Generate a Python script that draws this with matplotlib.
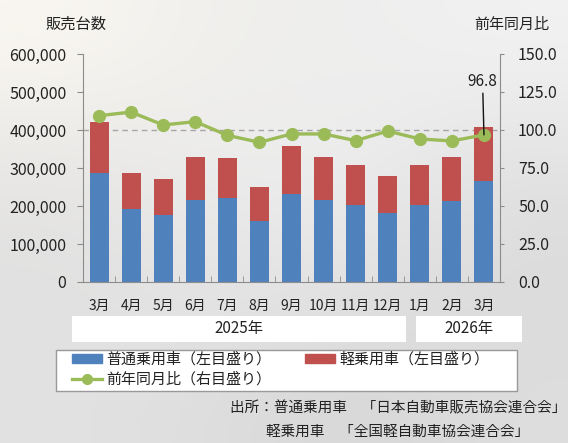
"""Monthly passenger car sales with year-on-year ratio."""

import matplotlib

matplotlib.use("Agg")
import matplotlib.pyplot as plt
import numpy as np
from matplotlib.lines import Line2D
from matplotlib.patches import Patch, Rectangle
from matplotlib.ticker import FuncFormatter, MultipleLocator

plt.rcParams["font.family"] = ["Noto Sans CJK JP", "DejaVu Sans"]

months = ["3月", "4月", "5月", "6月", "7月", "8月", "9月", "10月", "11月", "12月", "1月", "2月", "3月"]
years = ["2025年", "2026年"]
regular = [288000, 192000, 177000, 217000, 220000, 160000, 232000, 216000, 203000, 182000, 202000, 212000, 267000]
kei = [134000, 96000, 93000, 112000, 107000, 90000, 127000, 113000, 105000, 96000, 106000, 117000, 142000]
yoy = [109.4, 111.8, 103.3, 105.5, 96.5, 91.9, 97.4, 97.4, 93.0, 99.3, 94.1, 92.8, 96.8]

BLUE = "#4f81bd"
RED = "#c0504d"
GREEN = "#9bbb59"
SPINE = "#8c8c8c"
INK = "#222222"
W, H = 568, 443

fig = plt.figure(figsize=(W / 100, H / 100), dpi=100)

# soft grey backdrop standing in for the photo
bg = fig.add_axes([0, 0, 1, 1], zorder=-10)
shade = np.array([
    [[250, 247, 241], [240, 239, 236], [238, 238, 238], [242, 242, 242]],
    [[232, 231, 229], [236, 236, 236], [238, 238, 238], [226, 226, 226]],
    [[224, 224, 224], [230, 230, 230], [228, 228, 228], [218, 218, 218]],
    [[226, 226, 226], [222, 222, 222], [214, 214, 214], [222, 222, 222]],
]) / 255
bg.imshow(shade, aspect="auto", interpolation="bicubic", extent=[0, 1, 0, 1])
bg.set_axis_off()


def px(x0, y0, x1, y1):
    """pixel box (top-left origin) -> figure fraction rect"""
    return [x0 / W, 1 - y1 / H, (x1 - x0) / W, (y1 - y0) / H]


ax = fig.add_axes(px(83, 54, 500, 282))
ax.patch.set_alpha(0)
x = np.arange(len(months))
ax.bar(x, regular, width=0.59, color=BLUE, zorder=2)
ax.bar(x, kei, width=0.59, bottom=regular, color=RED, zorder=2)
ax.axhline(400000, color="#a6a6a6", lw=1, ls=(0, (4, 3)), zorder=1)
ax.set_xlim(-0.5, len(months) - 0.5)
ax.set_ylim(0, 600000)
ax.yaxis.set_major_locator(MultipleLocator(100000))
ax.yaxis.set_major_formatter(FuncFormatter(lambda v, _: f"{v:,.0f}"))
ax.set_xticks(x, months)
ax.set_xticks(x[:-1] + 0.5, minor=True)
ax.tick_params(axis="x", which="major", length=0, pad=12, labelsize=10, labelcolor=INK)
ax.tick_params(axis="x", which="minor", direction="in", length=4, color=SPINE)
ax.tick_params(axis="y", length=4, color=SPINE, pad=8, labelsize=11.5, labelcolor=INK)
for side in ("top", "right"):
    ax.spines[side].set_visible(False)
for side in ("left", "bottom"):
    ax.spines[side].set_color(SPINE)

ax2 = ax.twinx()
ax2.plot(x, yoy, color=GREEN, lw=2.4, marker="o", ms=8.5, zorder=3)
ax2.set_ylim(0, 150)
ax2.yaxis.set_major_locator(MultipleLocator(25))
ax2.yaxis.set_major_formatter(FuncFormatter(lambda v, _: f"{v:.1f}"))
ax2.tick_params(axis="y", length=3, color=SPINE, pad=10, labelsize=11.5, labelcolor=INK)
for side in ("top", "left", "bottom"):
    ax2.spines[side].set_visible(False)
ax2.spines["right"].set_color(SPINE)
ax2.annotate(f"{yoy[-1]:.1f}", xy=(x[-1], yoy[-1]), xytext=(-1, 32), textcoords="offset points",
             ha="center", va="bottom", fontsize=11, color=INK,
             arrowprops=dict(arrowstyle="-", color="#111111", lw=1, shrinkA=0, shrinkB=0))

fig.text(45 / W, 1 - 24 / H, "販売台数", fontsize=11, va="center", color=INK)
fig.text(474 / W, 1 - 25 / H, "前年同月比", fontsize=10.8, va="center", color=INK)

# year bands under the month labels
for (x0, x1), label in zip([(72, 406), (416, 522)], years):
    fig.patches.append(Rectangle(px(x0, 316, x1, 342)[:2], (x1 - x0) / W, 26 / H,
                                 transform=fig.transFigure, facecolor="white", edgecolor="none"))
    fig.text((x0 + x1) / 2 / W, 1 - 329 / H, label, fontsize=11, ha="center", va="center", color=INK)

# legend frame
fig.patches.append(Rectangle(px(56, 350, 517, 391)[:2], 461 / W, 41 / H, transform=fig.transFigure,
                             facecolor="white", edgecolor="#999999", lw=1))
handles = [
    Patch(color=BLUE, label="普通乗用車（左目盛り）"),
    Line2D([], [], color=GREEN, lw=2.4, marker="o", ms=7, label="前年同月比（右目盛り）"),
    Patch(color=RED, label="軽乗用車（左目盛り）"),
]
fig.legend(handles=handles, ncol=2, loc="upper left", bbox_to_anchor=(72 / W, 1 - 352 / H),
           frameon=False, fontsize=10.8, borderpad=0, borderaxespad=0, handlelength=2.0,
           handleheight=0.55, handletextpad=0.3, columnspacing=2.2, labelspacing=0.4,
           labelcolor=INK)

fig.text(566 / W, 1 - 408 / H, "出所：普通乗用車　「日本自動車販売協会連合会」", fontsize=10.5,
         ha="right", va="center", color=INK)
fig.text(266 / W, 1 - 432 / H, "軽乗用車　「全国軽自動車協会連合会」", fontsize=10.5,
         ha="left", va="center", color=INK)

fig.savefig("out.png", dpi=100)
